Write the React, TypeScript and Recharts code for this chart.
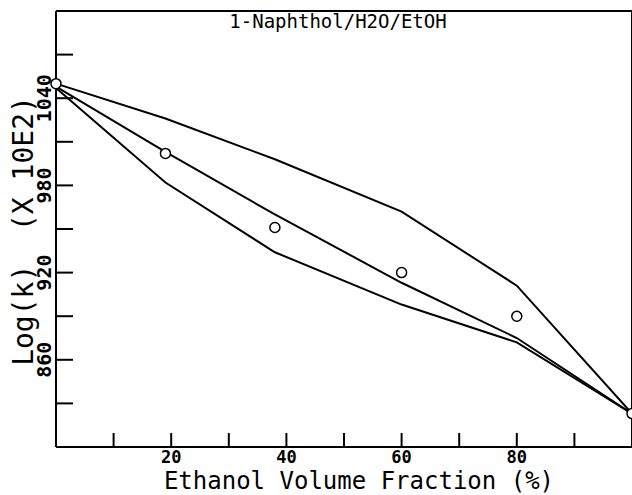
import React from 'react';
import { ComposedChart, Line, XAxis, YAxis, ReferenceLine } from 'recharts';

// ethanol volume fraction (%)
const fractions = [0, 19, 38, 60, 80, 100];
// log(k) x 10E2, three model curves and the measured points
const upperFit = [1050, 1026, 998, 962, 911, 823];
const middleFit = [1048, 1003, 960, 913, 875, 823];
const lowerFit = [1047, 982, 934, 898, 872, 823];
const measured = [1050, 1002, 951, 920, 890, 823];

const xTicks = [10, 20, 30, 40, 50, 60, 70, 80, 90];
const xLabels = [20, 40, 60, 80];
const yTicks = [830, 860, 890, 920, 950, 980, 1010, 1040, 1070];
const yLabels = [860, 920, 980, 1040];

const data = fractions.map((x, i) => ({
  x,
  upper: upperFit[i],
  middle: middleFit[i],
  lower: lowerFit[i],
  measured: measured[i],
}));

const MONO = '"DejaVu Sans Mono", "Liberation Mono", monospace';

const XTick = (props: any) => {
  const { x, y, payload } = props;
  return (
    <g>
      <line x1={x} x2={x} y1={y} y2={y - 14} stroke="#000" strokeWidth={2} />
      {xLabels.includes(payload.value) && (
        <text x={x} y={y + 10} textAnchor="middle" dominantBaseline="central"
          fontFamily={MONO} fontWeight="bold" fontSize={17} fill="#000">
          {payload.value}
        </text>
      )}
    </g>
  );
};

const YTick = (props: any) => {
  const { x, y, payload } = props;
  return (
    <g>
      <line x1={x} x2={x + 17} y1={y} y2={y} stroke="#000" strokeWidth={2} />
      {yLabels.includes(payload.value) && (
        <text x={x - 12} y={y} textAnchor="middle" dominantBaseline="central"
          transform={`rotate(-90 ${x - 12} ${y})`}
          fontFamily={MONO} fontWeight="bold" fontSize={20} fill="#000">
          {payload.value}
        </text>
      )}
    </g>
  );
};

export default function App() {
  return (
    <div style={{ position: 'absolute', left: 0, top: 0, width: 632, height: 495, background: '#fff' }}>
      <ComposedChart width={632} height={495} data={data}
        margin={{ top: 11, right: 0, bottom: 0, left: 0 }}>
        <XAxis dataKey="x" type="number" domain={[0, 100]} ticks={xTicks} interval={0}
          height={48} tickSize={0} tickMargin={0} tick={<XTick />}
          axisLine={{ stroke: '#000', strokeWidth: 2 }} />
        <YAxis type="number" domain={[800, 1100]} ticks={yTicks} interval={0}
          width={56} tickSize={0} tickMargin={0} tick={<YTick />}
          axisLine={{ stroke: '#000', strokeWidth: 2 }} />
        <ReferenceLine y={1100} stroke="#000" strokeWidth={2} />
        <ReferenceLine x={100} stroke="#000" strokeWidth={2} />
        <Line dataKey="upper" stroke="#000" strokeWidth={2} dot={false} isAnimationActive={false} />
        <Line dataKey="middle" stroke="#000" strokeWidth={2} dot={false} isAnimationActive={false} />
        <Line dataKey="lower" stroke="#000" strokeWidth={2} dot={false} isAnimationActive={false} />
        <Line dataKey="measured" stroke="none" isAnimationActive={false}
          dot={{ r: 5, fill: '#fff', stroke: '#000', strokeWidth: 1.5 }} />
        <text x={338} y={21} textAnchor="middle" dominantBaseline="central"
          fontFamily={MONO} fontSize={19} fill="#000">
          1-Naphthol/H2O/EtOH
        </text>
        <text x={359} y={489} textAnchor="middle"
          fontFamily={MONO} fontSize={24} fill="#000">
          Ethanol Volume Fraction (%)
        </text>
        <text x={23} y={231} textAnchor="middle" dominantBaseline="central"
          transform="rotate(-90 23 231)" style={{ whiteSpace: 'pre' }}
          fontFamily={MONO} fontSize={28} fill="#000">
          {'Log(k)  (X 10E2)'}
        </text>
      </ComposedChart>
    </div>
  );
}
